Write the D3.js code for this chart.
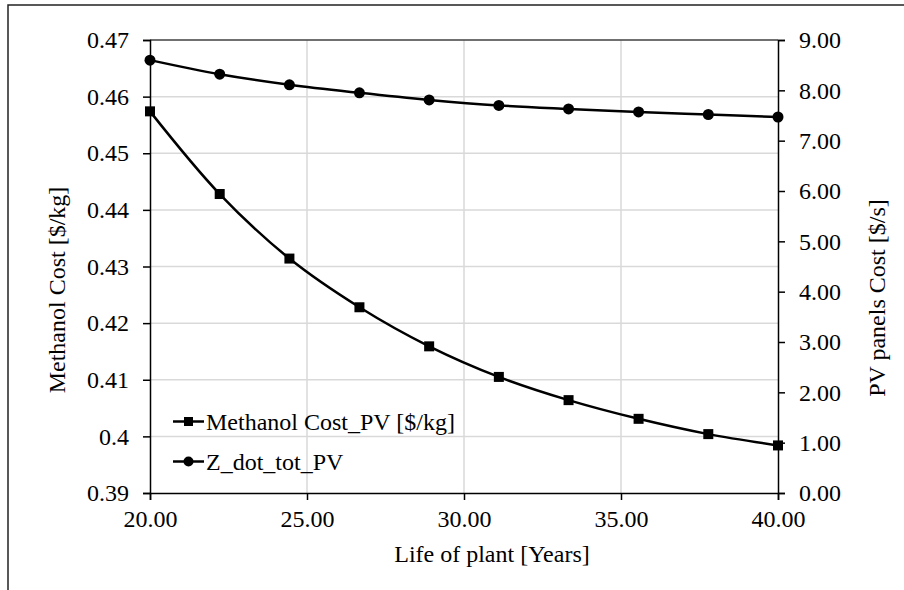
<!DOCTYPE html>
<html>
<head>
<meta charset="utf-8">
<script src="https://cdn.jsdelivr.net/npm/d3@7"></script>
<style>
  body { margin: 0; background: #fff; }
  svg { display: block; font-family: "Liberation Serif", "Times New Roman", serif; }
  svg text { font-family: "Liberation Serif", "Times New Roman", serif; }
</style>
</head>
<body>
<svg width="904" height="590"></svg>
<script>
const years = [20, 22.22, 24.44, 26.67, 28.89, 31.11, 33.33, 35.56, 37.78, 40];
const methanolCost = [0.4574, 0.4428, 0.4314, 0.4228, 0.4159, 0.4105, 0.4064, 0.4031, 0.4004, 0.3984];
const zDotTot = [8.60, 8.32, 8.11, 7.95, 7.81, 7.70, 7.63, 7.57, 7.52, 7.47];

const xTicks = [20, 25, 30, 35, 40];
const leftTicks = [0.39, 0.40, 0.41, 0.42, 0.43, 0.44, 0.45, 0.46, 0.47];
const rightTicks = [0, 1, 2, 3, 4, 5, 6, 7, 8, 9];

const seriesNames = ['Methanol Cost_PV [$/kg]', 'Z_dot_tot_PV'];

const plot = { left: 150, right: 778, top: 40, bottom: 493 };
const fontSize = 24;
const serif = '"Liberation Serif", "Times New Roman", serif';

const svg = d3.select('svg');

// outer chart border (right and bottom run off the page)
svg.append('rect')
  .attr('x', 8).attr('y', 5)
  .attr('width', 920).attr('height', 620)
  .style('fill', 'none').style('stroke', '#222').style('stroke-width', 1.5);

const x = d3.scaleLinear().domain([20, 40]).range([plot.left, plot.right]);
const yL = d3.scaleLinear().domain([0.39, 0.47]).range([plot.bottom, plot.top]);
const yR = d3.scaleLinear().domain([0, 9]).range([plot.bottom, plot.top]);

// gridlines
svg.append('g').selectAll('line')
  .data(leftTicks.slice(1, -1))
  .join('line')
  .attr('x1', plot.left).attr('x2', plot.right)
  .attr('y1', d => yL(d)).attr('y2', d => yL(d))
  .style('stroke', '#d9d9d9').style('stroke-width', 1.5);

svg.append('g').selectAll('line')
  .data(xTicks.slice(1, -1))
  .join('line')
  .attr('x1', d => x(d)).attr('x2', d => x(d))
  .attr('y1', plot.top).attr('y2', plot.bottom)
  .style('stroke', '#d9d9d9').style('stroke-width', 1.5);

// top frame line
svg.append('line')
  .attr('x1', plot.left).attr('x2', plot.right)
  .attr('y1', plot.top).attr('y2', plot.top)
  .style('stroke', '#404040').style('stroke-width', 1.5);

// axes
const xAxis = svg.append('g')
  .attr('transform', `translate(0,${plot.bottom})`)
  .call(d3.axisBottom(x).tickValues(xTicks).tickFormat(d3.format('.2f')).tickSize(7).tickPadding(10));

const leftAxis = svg.append('g')
  .attr('transform', `translate(${plot.left},0)`)
  .call(d3.axisLeft(yL).tickValues(leftTicks).tickFormat(d => String(+d.toFixed(2))).tickSize(7).tickPadding(14));

const rightAxis = svg.append('g')
  .attr('transform', `translate(${plot.right},0)`)
  .call(d3.axisRight(yR).tickValues(rightTicks).tickFormat(d3.format('.2f')).tickSize(7).tickPadding(14));

[xAxis, leftAxis, rightAxis].forEach(a => {
  a.attr('font-family', serif).attr('font-size', fontSize);
  a.select('.domain').style('stroke', '#000').style('stroke-width', 1.5);
  a.selectAll('.tick line').style('stroke', '#000').style('stroke-width', 1.5);
  a.selectAll('text')
    .attr('font-family', serif)
    .style('font-size', fontSize + 'px')
    .style('fill', '#000');
});

// axis titles
svg.append('text')
  .attr('x', 492).attr('y', 562)
  .attr('text-anchor', 'middle')
  .style('font-size', fontSize + 'px')
  .text('Life of plant [Years]');

svg.append('text')
  .attr('transform', 'translate(65,290) rotate(-90)')
  .attr('text-anchor', 'middle')
  .style('font-size', fontSize + 'px')
  .text('Methanol Cost [$/kg]');

svg.append('text')
  .attr('transform', 'translate(885,298) rotate(-90)')
  .attr('text-anchor', 'middle')
  .style('font-size', fontSize + 'px')
  .text('PV panels Cost [$/s]');

// series
const lineL = d3.line().x(d => x(d[0])).y(d => yL(d[1])).curve(d3.curveCatmullRom.alpha(0.5));
const lineR = d3.line().x(d => x(d[0])).y(d => yR(d[1])).curve(d3.curveCatmullRom.alpha(0.5));

const methanolPts = years.map((d, i) => [d, methanolCost[i]]);
const zPts = years.map((d, i) => [d, zDotTot[i]]);

svg.append('path')
  .attr('d', lineR(zPts))
  .style('fill', 'none').style('stroke', '#000').style('stroke-width', 2.5);

svg.append('path')
  .attr('d', lineL(methanolPts))
  .style('fill', 'none').style('stroke', '#000').style('stroke-width', 2.5);

const sq = 10;
svg.append('g').selectAll('rect')
  .data(methanolPts)
  .join('rect')
  .attr('x', d => x(d[0]) - sq / 2)
  .attr('y', d => yL(d[1]) - sq / 2)
  .attr('width', sq).attr('height', sq)
  .style('fill', '#000');

svg.append('g').selectAll('circle')
  .data(zPts)
  .join('circle')
  .attr('cx', d => x(d[0]))
  .attr('cy', d => yR(d[1]))
  .attr('r', 5.5)
  .style('fill', '#000');

// legend
const legend = svg.append('g');
const legendRows = [421.5, 461.5];
seriesNames.forEach((name, i) => {
  const ly = legendRows[i];
  legend.append('line')
    .attr('x1', 173).attr('x2', 204)
    .attr('y1', ly).attr('y2', ly)
    .style('stroke', '#000').style('stroke-width', 2.5);
  if (i == 0) {
    legend.append('rect')
      .attr('x', 188.5 - 4.5).attr('y', ly - 4.5)
      .attr('width', 9).attr('height', 9)
      .style('fill', '#000');
  } else {
    legend.append('circle')
      .attr('cx', 188.5).attr('cy', ly)
      .attr('r', 5)
      .style('fill', '#000');
  }
  legend.append('text')
    .attr('x', 206).attr('y', ly + 8)
    .style('font-size', fontSize + 'px')
    .text(name);
});
</script>
</body>
</html>
